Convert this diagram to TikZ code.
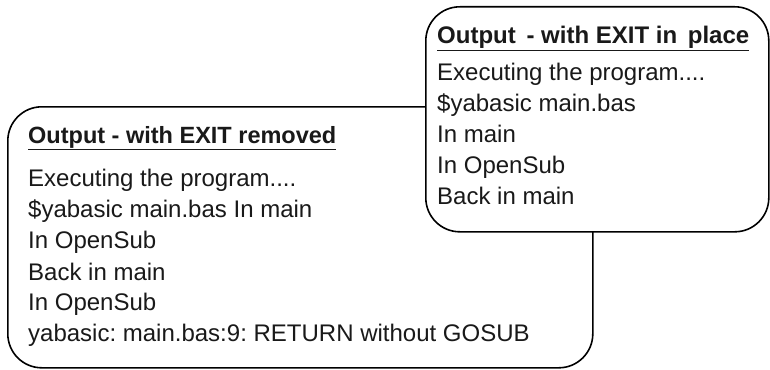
\documentclass[tikz,border=0pt]{standalone}
\usepackage{fontspec}
\setmainfont{Liberation Sans}
\begin{document}
\frenchspacing
\begin{tikzpicture}[x=1pt,y=-1pt,
  box/.style={draw=black, line width=1.6pt, fill=white, rounded corners=34pt, anchor=north west, inner sep=0pt},
  txt/.style={anchor=base west, inner sep=0pt, text=black!90, font=\fontsize{24}{28}\selectfont},
  ttl/.style={txt, font=\fontsize{24}{28}\selectfont\bfseries}]
\useasboundingbox (0,0) rectangle (770,369);
% left box (behind)
\node[box, minimum width=585pt, minimum height=261pt] (leftbox) at (7,106) {};
% right box (front)
\node[box, minimum width=343pt, minimum height=225pt] (rightbox) at (425,6) {};

\node[ttl] (rt) at (437,44) {\underline{Output\, - with EXIT in\, place}};
\node[txt] (r1) at (437,80) {Executing the program....};
\node[txt] (r2) at (437,111) {\$yabasic main.bas};
\node[txt] (r3) at (437,142) {In main};
\node[txt] (r4) at (437,173) {In OpenSub};
\node[txt] (r5) at (437,204) {Back in main};

\node[ttl, font=\fontsize{23.5}{28}\selectfont\bfseries] (lt) at (28,143) {\underline{Output - with EXIT removed}};
\node[txt] (l1) at (28,186) {Executing the program....};
\node[txt] (l2) at (28,217) {\$yabasic main.bas In main};
\node[txt] (l3) at (28,248) {In OpenSub};
\node[txt] (l4) at (28,280) {Back in main};
\node[txt] (l5) at (28,310) {In OpenSub};
\node[txt] (l6) at (28,341) {yabasic: main.bas:9: RETURN without GOSUB};
\end{tikzpicture}
\end{document}
